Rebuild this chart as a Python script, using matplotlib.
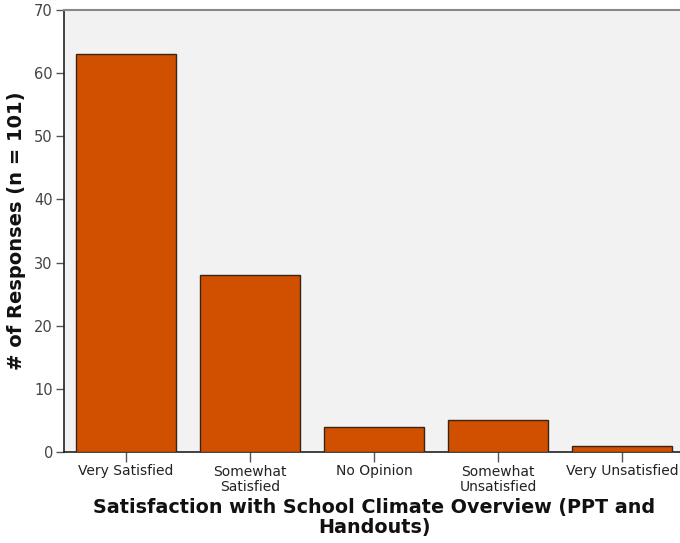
import matplotlib
matplotlib.use("Agg")
import matplotlib.pyplot as plt

categories = ["Very Satisfied", "Somewhat\nSatisfied", "No Opinion",
              "Somewhat\nUnsatisfied", "Very Unsatisfied"]
counts = [63, 28, 4, 5, 1]
y_ticks = [0, 10, 20, 30, 40, 50, 60, 70]

fig = plt.figure(figsize=(6.8, 5.43), dpi=100)
ax = fig.add_axes([64 / 680, 1 - 452 / 543, 620 / 680, 442 / 543])
ax.set_facecolor("#f2f2f2")

x = list(range(len(categories)))
ax.bar(x, counts, width=0.8, color="#d05000", edgecolor="#3a2418", linewidth=1.0, zorder=3)

ax.set_xlim(-0.5, len(categories) - 0.5)
ax.set_ylim(0, 70)
ax.set_yticks(y_ticks)
ax.set_xticks(x)
ax.set_xticklabels(categories, fontsize=10, color="#222222", linespacing=1.1)

ax.tick_params(axis="y", direction="out", length=6, width=1, color="#555555",
               labelsize=10.5, labelcolor="#444444", pad=2)
ax.tick_params(axis="x", direction="out", length=7, width=1, color="#555555", pad=2)

for side in ["top", "right"]:
    ax.spines[side].set_color("#888888")
    ax.spines[side].set_linewidth(1.5)
ax.spines["left"].set_color("#222222")
ax.spines["bottom"].set_color("#222222")
ax.spines["left"].set_linewidth(1.2)
ax.spines["bottom"].set_linewidth(1.2)

ax.set_ylabel("# of Responses (n = 101)", fontsize=14, fontweight="bold", labelpad=6,
              color="#111111")
ax.set_xlabel("Satisfaction with School Climate Overview (PPT and\nHandouts)",
              fontsize=13.8, fontweight="bold", labelpad=3, linespacing=1.05,
              color="#111111")

fig.savefig("out.png", dpi=100)
